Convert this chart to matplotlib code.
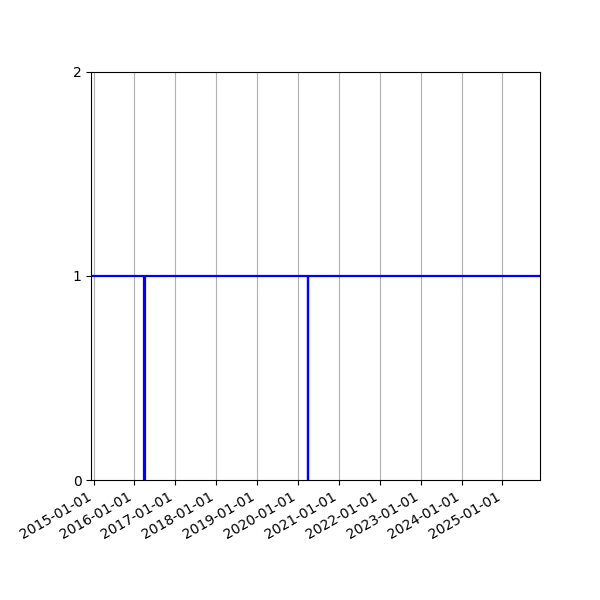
import pandas as pd
import matplotlib
matplotlib.use('Agg')
import matplotlib.pyplot as plt
import matplotlib.dates as mdates

# fechas donde cambia el valor (serie escalonada)
fechas = ['2014-12-11', '2016-03-31', '2016-04-03', '2020-03-30', '2020-04-02', '2025-12-02']
valores = [1, 0, 1, 0, 1, 1]
ticks_y = [0, 1, 2]

fechas = pd.to_datetime(fechas)

fig = plt.figure(figsize=(6, 6), dpi=100)
ax = fig.add_axes([0.152, 0.2, 0.748, 0.68])
ax.plot(fechas, valores, color='blue', linewidth=1.6, drawstyle='steps-post')

ax.set_xlim(fechas[0], fechas[-1])
ax.set_ylim(0, 2)
ax.set_yticks(ticks_y)
ax.xaxis.set_major_locator(mdates.YearLocator())
ax.xaxis.set_major_formatter(mdates.DateFormatter('%Y-%m-%d'))
ax.grid(True, axis='x')
for etiqueta in ax.get_xticklabels():
    etiqueta.set_rotation(30)
    etiqueta.set_ha('right')

plt.savefig('out.png')
